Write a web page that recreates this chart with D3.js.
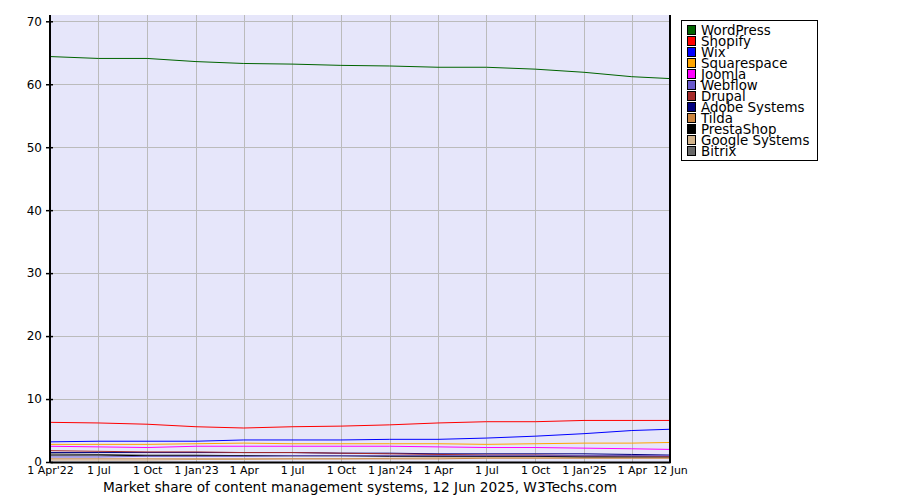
<!DOCTYPE html>
<html>
<head>
<meta charset="utf-8">
<script src="https://cdn.jsdelivr.net/npm/d3@7"></script>
<style>
  body { margin: 0; background: #fff; }
  text { font-family: "DejaVu Sans", Verdana, sans-serif; }
</style>
</head>
<body>
<div id="chart"></div>
<script>
// --------------------------------------
//  Data
// --------------------------------------

const dates = ["2022-04-01", "2022-07-01", "2022-10-01", "2023-01-01", "2023-04-01", "2023-07-01",
  "2023-10-01", "2024-01-01", "2024-04-01", "2024-07-01", "2024-10-01", "2025-01-01",
  "2025-04-01", "2025-06-12"];

const systems = ["WordPress", "Shopify", "Wix", "Squarespace", "Joomla", "Webflow", "Drupal",
  "Adobe Systems", "Tilda", "PrestaShop", "Google Systems", "Bitrix"];

const colors = ["#006400", "#ff0000", "#0000ff", "#ffa500", "#ff00ff", "#6a5acd", "#a52a2a",
  "#000080", "#cd853f", "#000000", "#d2b48c", "#696969"];

const wordpress = [64.4, 64.1, 64.1, 63.6, 63.3, 63.2, 63.0, 62.9, 62.7, 62.7, 62.4, 61.9, 61.2, 60.9];
const shopify = [6.3, 6.2, 6.0, 5.6, 5.4, 5.6, 5.7, 5.9, 6.2, 6.4, 6.4, 6.6, 6.6, 6.6];
const wix = [3.2, 3.3, 3.3, 3.3, 3.5, 3.5, 3.5, 3.6, 3.6, 3.8, 4.1, 4.5, 5.0, 5.2];
const squarespace = [2.8, 2.8, 2.8, 2.9, 3.0, 2.9, 2.9, 2.9, 2.9, 2.8, 2.9, 3.0, 3.0, 3.1];
const joomla = [2.5, 2.4, 2.3, 2.5, 2.5, 2.5, 2.5, 2.5, 2.4, 2.3, 2.3, 2.2, 2.1, 2.0];
const webflow = [0.8, 0.8, 0.9, 0.9, 0.9, 1.0, 1.0, 1.0, 1.0, 1.0, 1.0, 1.0, 1.0, 1.0];
const drupal = [1.8, 1.7, 1.6, 1.6, 1.5, 1.5, 1.4, 1.3, 1.2, 1.1, 1.1, 1.0, 1.0, 0.9];
const adobe = [1.5, 1.5, 1.5, 1.5, 1.5, 1.5, 1.4, 1.4, 1.3, 1.3, 1.3, 1.3, 1.2, 1.1];
const tilda = [0.5, 0.5, 0.5, 0.5, 0.5, 0.5, 0.5, 0.5, 0.5, 0.6, 0.6, 0.6, 0.6, 0.6];
const prestashop = [1.1, 1.1, 1.0, 1.0, 1.0, 1.0, 1.0, 0.9, 0.9, 0.9, 0.9, 0.8, 0.8, 0.8];
const google = [0.3, 0.3, 0.3, 0.4, 0.4, 0.5, 0.5, 0.6, 0.7, 0.7, 0.7, 0.7, 0.7, 0.7];
const bitrix = [1.3, 1.2, 1.1, 1.1, 1.0, 1.0, 1.0, 1.0, 1.0, 0.9, 0.9, 0.9, 0.8, 0.8];

const seriesValues = [wordpress, shopify, wix, squarespace, joomla, webflow, drupal,
  adobe, tilda, prestashop, google, bitrix];

const tickDates = ["2022-04-01", "2022-07-01", "2022-10-01", "2023-01-01", "2023-04-01", "2023-07-01",
  "2023-10-01", "2024-01-01", "2024-04-01", "2024-07-01", "2024-10-01", "2025-01-01",
  "2025-04-01", "2025-06-12"];
const tickLabels = ["1 Apr'22", "1 Jul", "1 Oct", "1 Jan'23", "1 Apr", "1 Jul", "1 Oct",
  "1 Jan'24", "1 Apr", "1 Jul", "1 Oct", "1 Jan'25", "1 Apr", "12 Jun"];

const yTicks = [0, 10, 20, 30, 40, 50, 60, 70];

// --------------------------------------
//  Canvas
// --------------------------------------

const width = 900;
const height = 500;
const margin = { top: 15, right: 230, bottom: 38, left: 50 };
const innerwidth = width - margin.left - margin.right;
const innerheight = height - margin.top - margin.bottom;

const svg = d3.select("#chart")
  .append("svg")
  .attr("width", width)
  .attr("height", height);

const innerChart = svg.append("g")
  .attr("transform", `translate(${margin.left}, ${margin.top})`);

const parse = d3.utcParse("%Y-%m-%d");

const x = d3.scaleUtc([parse(dates[0]), parse(dates[dates.length - 1])], [0, innerwidth]);
const y = d3.scaleLinear([0, 71], [innerheight, 0]);

// background
innerChart.append("rect")
  .attr("width", innerwidth)
  .attr("height", innerheight)
  .attr("fill", "#e6e6fa");

// grid
innerChart.selectAll("line.vgrid")
  .data(tickDates.slice(1, -1))
  .join("line")
  .attr("class", "vgrid")
  .attr("x1", d => Math.round(x(parse(d))) + 0.5)
  .attr("x2", d => Math.round(x(parse(d))) + 0.5)
  .attr("y1", 0)
  .attr("y2", innerheight)
  .attr("stroke", "#bbbbbb");

innerChart.selectAll("line.hgrid")
  .data(yTicks.slice(1))
  .join("line")
  .attr("class", "hgrid")
  .attr("x1", 0)
  .attr("x2", innerwidth)
  .attr("y1", d => Math.round(y(d)) + 0.5)
  .attr("y2", d => Math.round(y(d)) + 0.5)
  .attr("stroke", "#bbbbbb");

// --------------------------------------
//  Lines
// --------------------------------------

const line = d3.line()
  .x((d, i) => x(parse(dates[i])))
  .y(d => y(d));

innerChart.selectAll("path.series")
  .data(seriesValues.slice().reverse())
  .join("path")
  .attr("class", "series")
  .attr("d", d => line(d))
  .attr("fill", "none")
  .attr("stroke", (d, i) => colors[colors.length - 1 - i])
  .attr("stroke-width", 1);

// --------------------------------------
//  Axes
// --------------------------------------

innerChart.append("g")
  .attr("transform", `translate(0, ${innerheight})`)
  .call(d3.axisBottom(x)
    .tickValues(tickDates.map(parse))
    .tickSize(0)
    .tickPadding(4)
    .tickFormat((d, i) => tickLabels[i]))
  .call(g => g.select(".domain").attr("stroke", "#000").attr("stroke-width", 2))
  .call(g => g.selectAll("text")
    .attr("font-family", "'Liberation Sans', Arial, sans-serif")
    .attr("font-size", 11)
    .attr("fill", "#000"));

innerChart.append("g")
  .call(d3.axisLeft(y)
    .tickValues(yTicks)
    .tickSize(8)
    .tickPadding(2)
    .tickSizeInner(4))
  .call(g => g.select(".domain").remove())
  .call(g => g.selectAll(".tick line").attr("x2", -4).attr("x1", 3).attr("stroke", "#000").attr("stroke-width", 1.5))
  .call(g => g.selectAll("text")
    .attr("x", -8)
    .attr("font-family", "'DejaVu Sans', Verdana, sans-serif")
    .attr("font-size", 12)
    .attr("fill", "#000"));

// left and right border
innerChart.append("line")
  .attr("x1", 0).attr("x2", 0)
  .attr("y1", 0).attr("y2", innerheight + 1)
  .attr("stroke", "#000").attr("stroke-width", 2);

innerChart.append("line")
  .attr("x1", innerwidth).attr("x2", innerwidth)
  .attr("y1", 0).attr("y2", innerheight + 1)
  .attr("stroke", "#000").attr("stroke-width", 2);

// --------------------------------------
//  Legend
// --------------------------------------

const legend = svg.append("g")
  .attr("transform", "translate(681, 20)");

legend.append("rect")
  .attr("x", 0.5).attr("y", 0.5)
  .attr("width", 136).attr("height", 140)
  .attr("fill", "#fff")
  .attr("stroke", "#000");

const rowH = 11;

legend.selectAll("rect.swatch")
  .data(systems)
  .join("rect")
  .attr("class", "swatch")
  .attr("x", 6.5)
  .attr("y", (d, i) => 5.5 + i * rowH)
  .attr("width", 8)
  .attr("height", 9)
  .attr("fill", (d, i) => colors[i])
  .attr("stroke", "#000");

legend.selectAll("text.item")
  .data(systems)
  .join("text")
  .attr("class", "item")
  .attr("x", 20)
  .attr("y", (d, i) => 14.5 + i * rowH)
  .attr("font-size", 13.4)
  .attr("fill", "#000")
  .text(d => d);

// --------------------------------------
//  Title
// --------------------------------------

svg.append("text")
  .attr("x", 360)
  .attr("y", 492)
  .attr("text-anchor", "middle")
  .attr("font-size", 13.7)
  .attr("fill", "#000")
  .text("Market share of content management systems, 12 Jun 2025, W3Techs.com");
</script>
</body>
</html>
